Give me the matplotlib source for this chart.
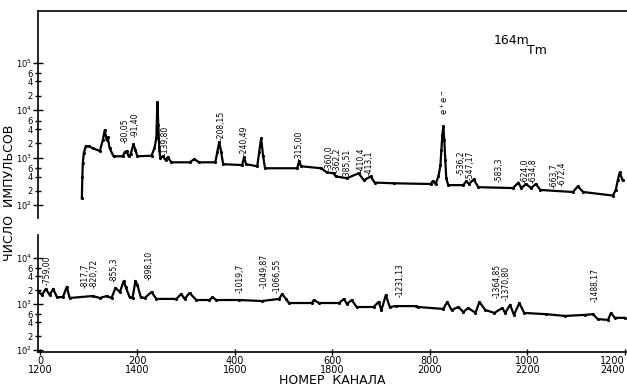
import matplotlib
matplotlib.use("Agg")
import matplotlib.pyplot as plt

# upper spectrum, channels 0..1200
top_ch = [86, 87, 88, 90, 94, 100, 108, 123, 129, 133, 137, 139, 143, 151, 170,
          174, 178, 182, 186, 192, 196, 200, 229, 235, 239, 241, 243, 245, 247,
          252, 258, 262, 270, 307, 317, 327, 360, 364, 368, 372, 376, 415, 419,
          423, 446, 450, 454, 458, 462, 528, 532, 536, 577, 589, 603, 607, 630,
          654, 665, 679, 687, 726, 802, 806, 812, 818, 822, 824, 826, 828, 830,
          832, 834, 838, 869, 875, 881, 890, 900, 971, 982, 988, 998, 1008,
          1018, 1027, 1094, 1104, 1115, 1176, 1182, 1186, 1190, 1196]
top_cnt = [140, 390, 760, 1240, 1740, 1740, 1590, 1380, 2340, 3800, 2340, 2700,
           1590, 1070, 1070, 1310, 1380, 1070, 1180, 1920, 1440, 1070, 1100,
           1590, 2570, 14700, 4800, 1440, 990, 1070, 890, 1020, 800, 800, 930,
           800, 800, 1310, 2140, 1310, 730, 700, 1030, 730, 660, 1310, 2570,
           1100, 600, 600, 850, 660, 600, 490, 470, 405, 370, 470, 335, 405,
           300, 290, 280, 320, 280, 405, 690, 1440, 2970, 4600, 2340, 890, 370,
           265, 265, 320, 280, 350, 240, 230, 300, 230, 280, 230, 280, 210, 190,
           250, 190, 160, 210, 335, 490, 335]

# lower spectrum, channels 1200..2400
bot_ch = [1198, 1204, 1212, 1220, 1227, 1235, 1247, 1255, 1261, 1308, 1323,
          1337, 1347, 1355, 1364, 1372, 1376, 1384, 1390, 1396, 1400, 1407,
          1415, 1429, 1439, 1480, 1490, 1497, 1507, 1521, 1548, 1554, 1562,
          1609, 1656, 1691, 1697, 1705, 1711, 1758, 1762, 1773, 1814, 1824,
          1830, 1840, 1850, 1885, 1895, 1901, 1910, 1918, 1930, 1971, 1977,
          2028, 2036, 2045, 2059, 2069, 2079, 2094, 2102, 2114, 2133, 2149,
          2155, 2165, 2173, 2184, 2194, 2239, 2278, 2319, 2335, 2345, 2366,
          2372, 2380, 2400]
bot_cnt = [1820, 1570, 2130, 1570, 2130, 1410, 1410, 2350, 1350, 1490, 1350,
           1490, 1350, 2230, 1820, 3170, 2350, 1410, 1350, 3170, 2590, 1410,
           1350, 1820, 1290, 1290, 1650, 1290, 1740, 1220, 1220, 1410, 1220,
           1220, 1160, 1290, 1650, 1290, 1050, 1050, 1220, 1050, 1050, 1290,
           1000, 1220, 860, 860, 1110, 740, 1570, 860, 900, 900, 860, 780,
           1110, 740, 860, 670, 820, 640, 1110, 740, 640, 820, 640, 960, 580,
           1050, 640, 600, 550, 580, 600, 470, 450, 640, 500, 500]

# peak labels (energies, keV)
top_lab = ["80,05", "91,40", "139,80", "208,15", "240,49", "315,00", "360,0",
           "362,2", "385,51", "410,4", "413,1", "536,2", "547,17", "583,3",
           "624,0", "634,8", "663,7", "672,4"]
top_lab_ch = [174, 196, 256, 372, 419, 532, 593, 610, 630, 659, 676, 865, 882,
              943, 995, 1012, 1055, 1072]
top_lab_cnt = [2020, 2700, 1130, 2340, 1130, 890, 545, 495, 370, 495, 430,
               430, 335, 305, 290, 290, 228, 250]

bot_lab = ["759,00", "817,7", "820,72", "855,3", "898,10", "1019,7", "1049,87",
           "1066,55", "1231,13", "1364,85", "1370,80", "1488,17"]
bot_lab_ch = [1214, 1293, 1311, 1353, 1425, 1611, 1660, 1687, 1940, 2139,
              2157, 2339]
bot_lab_cnt = [2580, 2250, 2250, 3000, 3330, 1740, 2250, 1740, 1420, 1350,
               1220, 1100]

xticks = [0, 200, 400, 600, 800, 1000, 1200]

fig = plt.figure(figsize=(6.27, 3.86), dpi=100)
ax1 = fig.add_axes([0.0606, 0.4352, 0.9394, 0.5363])
ax2 = fig.add_axes([0.0606, 0.0881, 0.9394, 0.3031])

ax1.plot(top_ch, top_cnt, color="black", lw=1.6)
ax1.plot(top_ch, top_cnt, ".", color="black", ms=2.5)
ax2.plot(bot_ch, bot_cnt, color="black", lw=1.6)
ax2.plot(bot_ch, bot_cnt, ".", color="black", ms=2.5)

for ax in (ax1, ax2):
    ax.set_yscale("log")
    ax.spines["right"].set_visible(False)
    for s in ax.spines.values():
        s.set_linewidth(1.2)
    ax.tick_params(axis="y", which="major", direction="inout", length=7,
                   width=1, labelsize=6, pad=1)
    ax.tick_params(axis="y", which="minor", direction="inout", length=5,
                   width=1, labelsize=6, pad=1)

# upper panel
ax1.set_xlim(-4, 1205)
ax1.set_ylim(54, 1.21e6)
ax1.spines["bottom"].set_visible(False)
ax1.set_xticks([])
maj1 = [1e2, 1e3, 1e4, 1e5]
ax1.set_yticks(maj1)
ax1.set_yticklabels(["10$^{%d}$" % i for i in range(2, 6)])
min1 = [m * 10 ** e for e in range(2, 5) for m in (2, 4, 6)]
ax1.set_yticks(min1, minor=True)
ax1.set_yticklabels(["2", "4", "6"] * 3, minor=True)

# lower panel
ax2.set_xlim(1196, 2405)
ax2.set_ylim(90.5, 3.16e4)
ax2.spines["top"].set_visible(False)
ax2.set_xticks([t + 1200 for t in xticks])
ax2.set_xticklabels(["%d\n%d" % (t, t + 1200) for t in xticks], linespacing=0.9)
ax2.tick_params(axis="x", direction="inout", length=5, width=1,
                labelsize=7, pad=0.5)
ax2.get_xticklabels()[-1].set_horizontalalignment("right")
maj2 = [1e2, 1e3, 1e4]
ax2.set_yticks(maj2)
ax2.set_yticklabels(["10$^{%d}$" % i for i in range(2, 5)])
min2 = [m * 10 ** e for e in range(2, 4) for m in (2, 4, 6)]
ax2.set_yticks(min2, minor=True)
ax2.set_yticklabels(["2", "4", "6"] * 2, minor=True)

for lab, c, n in zip(top_lab, top_lab_ch, top_lab_cnt):
    ax1.text(c, n, "-" + lab, rotation=90, ha="center", va="bottom", fontsize=5.5)
ax1.text(830, 7800, "e$^+$e$^-$", rotation=90, ha="center", va="bottom",
         fontsize=6)
for lab, c, n in zip(bot_lab, bot_lab_ch, bot_lab_cnt):
    ax2.text(c, n, "-" + lab, rotation=90, ha="center", va="bottom", fontsize=5.5)

fig.text(512 / 627, 1 - 41 / 386, "164m", ha="center", va="center", fontsize=9)
fig.text(537 / 627, 1 - 51 / 386, "Tm", ha="center", va="center", fontsize=9)
fig.text(10 / 627, 1 - 193 / 386, "ЧИСЛО  ИМПУЛЬСОВ", rotation=90,
         ha="center", va="center", fontsize=9)
fig.text(332 / 627, 1 - 381 / 386, "НОМЕР  КАНАЛА", ha="center", va="center",
         fontsize=9)

fig.savefig("out.png", dpi=100)
